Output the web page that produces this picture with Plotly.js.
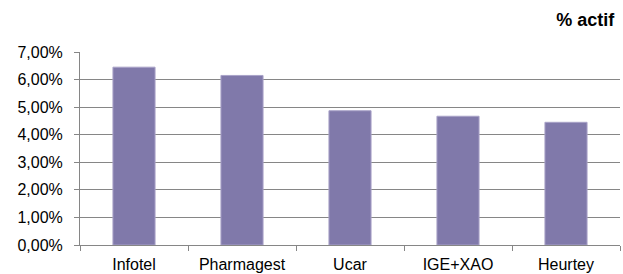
<!DOCTYPE html>
<html><head><meta charset="utf-8">
<script src="https://cdn.plot.ly/plotly-3.0.1.min.js"></script>
<style>html,body{margin:0;padding:0;background:#fff}#c{width:623px;height:274px}</style>
</head><body><div id="c"></div>
<script>
const categories = ["Infotel", "Pharmagest", "Ucar", "IGE+XAO", "Heurtey"];
const values = [0.0645, 0.0615, 0.0487, 0.0467, 0.0445];
const yTicks = [0, 0.01, 0.02, 0.03, 0.04, 0.05, 0.06, 0.07];

Plotly.newPlot("c", [{
  type: "bar", x: categories, y: values,
  marker: {color: "#8079aa", line: {color: "#a9a3c8", width: 1}},
  width: 0.39, hoverinfo: "skip"
}], {
  width: 623, height: 274,
  margin: {l: 80, r: 3, t: 52, b: 29},
  paper_bgcolor: "#fff", plot_bgcolor: "#fff",
  separators: ", ",
  font: {family: "Liberation Sans, Arial, sans-serif", size: 16, color: "#000"},
  title: {text: "<b>% actif</b>", xref: "container", yref: "container", x: 0.986, xanchor: "right", y: 0.927, yanchor: "middle", font: {size: 18}},
  showlegend: false,
  xaxis: {type: "category", showline: true, linecolor: "#868686", linewidth: 1,
    ticks: "outside", tickson: "boundaries", ticklen: 5, tickcolor: "#868686",
    ticklabelstandoff: 5,
    showgrid: false, tickfont: {size: 16}},
  yaxis: {range: [0, 0.07], tickvals: yTicks, tickformat: ".2%", showline: true,
    linecolor: "#868686", ticks: "outside", ticklen: 5, tickcolor: "#868686",
    ticklabelstandoff: 8,
    gridcolor: "#868686", gridwidth: 1, zeroline: false, tickfont: {size: 16}}
}, {staticPlot: true});
</script></body></html>
